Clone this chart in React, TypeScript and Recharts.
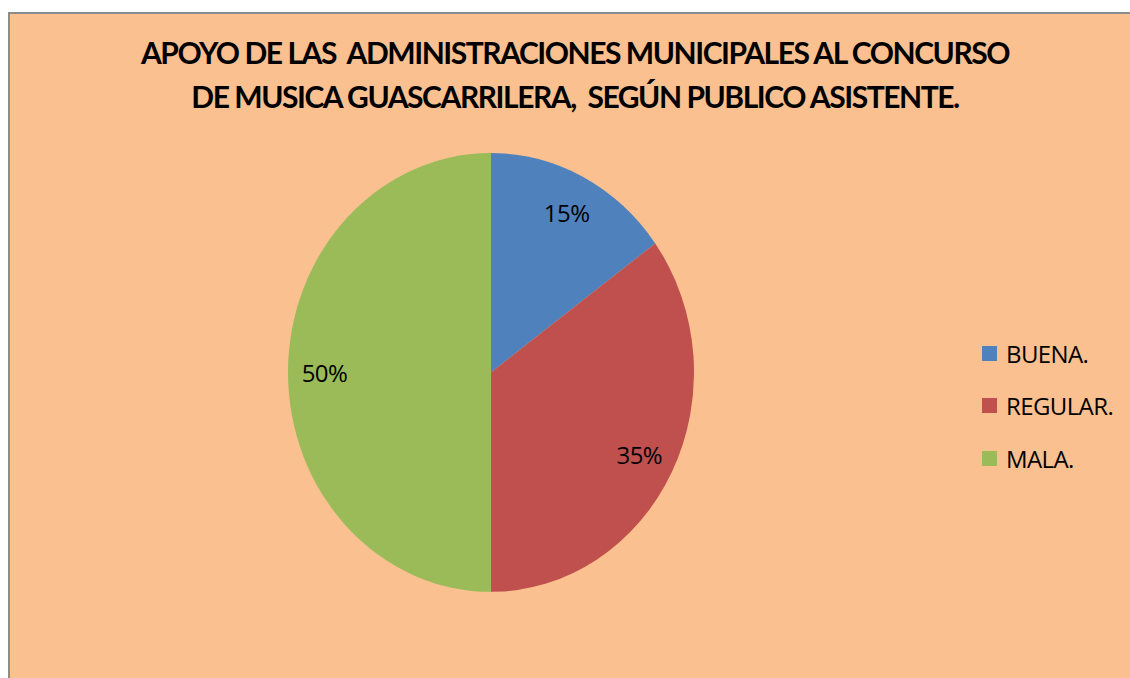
import React from "react";
import { PieChart, Pie, Cell } from "recharts";

// Support from the municipal administrations, by audience answer.
const categories = ["BUENA.", "REGULAR.", "MALA."];
const shares = [15, 35, 50];
const colors = ["#4F81BD", "#C0504D", "#9BBB59"];
const titleLines = [
  "APOYO DE LAS  ADMINISTRACIONES MUNICIPALES AL CONCURSO",
  "DE MUSICA GUASCARRILERA,  SEGÚN PUBLICO ASISTENTE.",
];

const data = categories.map((name, i) => ({ name, value: shares[i] }));

// Excel drew the pie a bit taller than wide; stretch it vertically and
// counter-stretch the labels so the text stays upright.
const STRETCH = 1.081;
const RAD = Math.PI / 180;

function SliceLabel(props: any) {
  const { cx, cy, midAngle, outerRadius, value } = props;
  const r = outerRadius * 0.82;
  const x = cx + r * Math.cos(-midAngle * RAD);
  const y = cy + r * Math.sin(-midAngle * RAD);
  return (
    <g transform={`translate(${x},${y}) scale(1,${1 / STRETCH})`}>
      <text
        x={0}
        y={0}
        textAnchor="middle"
        dominantBaseline="central"
        fontFamily="'Open Sans', sans-serif"
        fontSize={24}
        letterSpacing={-0.5}
        fill="#000"
      >
        {`${value}%`}
      </text>
    </g>
  );
}

export default function App() {
  return (
    <div
      style={{
        position: "fixed",
        left: 8,
        top: 12,
        right: -20,
        bottom: -20,
        background: "#FAC090",
        borderTop: "2px solid #8C8C8C",
        borderLeft: "2px solid #8C8C8C",
        boxSizing: "border-box",
        overflow: "hidden",
        fontFamily: "'Open Sans', sans-serif",
      }}
    >
      <style>{"html, body { overflow: hidden; }"}</style>
      <div
        style={{
          position: "absolute",
          left: 0,
          top: 16,
          width: 1130,
          textAlign: "center",
          fontFamily: "Lato, sans-serif",
          fontWeight: 700,
          fontSize: 30,
          letterSpacing: -1.45,
          lineHeight: "44px",
          whiteSpace: "pre",
          color: "#000",
        }}
      >
        {titleLines.map((t) => (
          <div key={t}>{t}</div>
        ))}
      </div>

      <div
        style={{
          position: "absolute",
          left: 226,
          top: 103,
          width: 500,
          height: 500,
          transform: `scaleY(${STRETCH})`,
          transformOrigin: "250px 250px",
        }}
      >
        <PieChart width={500} height={500}>
          <Pie
            data={data}
            dataKey="value"
            nameKey="name"
            cx={250}
            cy={250}
            outerRadius={203}
            startAngle={90}
            endAngle={-270}
            stroke="none"
            label={SliceLabel}
            labelLine={false}
            isAnimationActive={false}
          >
            {data.map((d, i) => (
              <Cell key={d.name} fill={colors[i]} />
            ))}
          </Pie>
        </PieChart>
      </div>

      <div style={{ position: "absolute", left: 972, top: 313 }}>
        {data.map((d, i) => (
          <div
            key={d.name}
            style={{ display: "flex", alignItems: "center", height: 52.5 }}
          >
            <div
              style={{ width: 15, height: 15, background: colors[i], marginRight: 9 }}
            />
            <span style={{ fontSize: 24, color: "#000", letterSpacing: -0.6 }}>
              {d.name}
            </span>
          </div>
        ))}
      </div>
    </div>
  );
}
